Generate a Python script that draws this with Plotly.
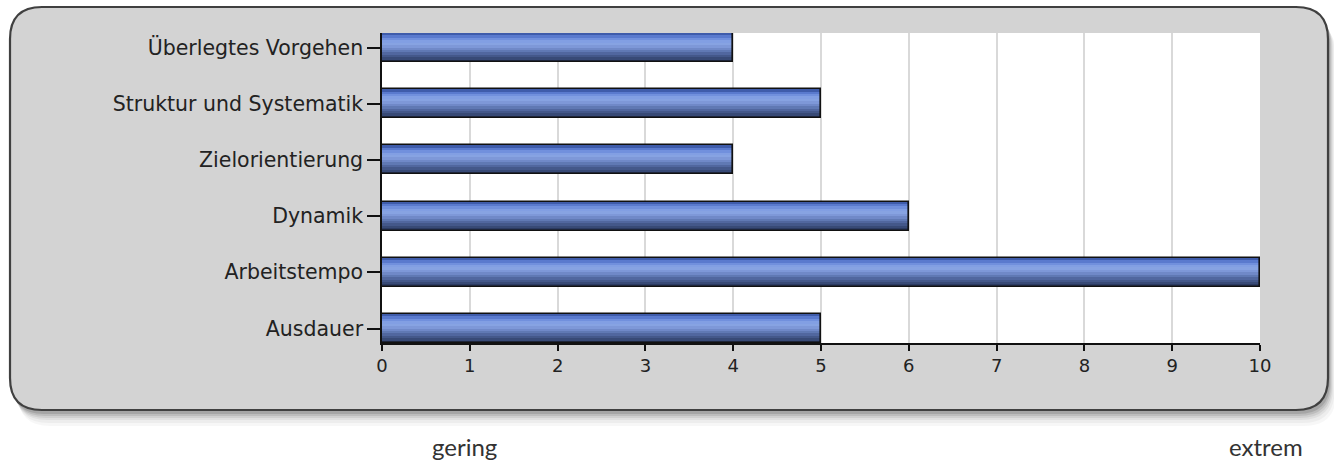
import plotly.graph_objects as go

categories = ["Überlegtes Vorgehen", "Struktur und Systematik", "Zielorientierung",
              "Dynamik", "Arbeitstempo", "Ausdauer"]
values = [4, 5, 4, 6, 10, 5]
x_ticks = [0, 1, 2, 3, 4, 5, 6, 7, 8, 9, 10]
scale_low = "gering"
scale_high = "extrem"

W, H = 1334, 466
BAR_W = 0.516
grad = ["#3f5cab", "#5a7ace", "#7190dd", "#829fe3", "#87a3e2", "#7e98d8",
        "#7089c8", "#6079b4", "#51679f", "#44588a", "#384a76", "#2c3b62"]

fig = go.Figure()
n = len(grad)
sw = BAR_W / n
for i, c in enumerate(grad):
    fig.add_trace(go.Bar(
        x=values, y=categories, orientation="h",
        width=sw * 1.02, offset=-BAR_W / 2 + i * sw,
        marker=dict(color=c, line=dict(width=0)),
        showlegend=False, hoverinfo="skip"))
fig.add_trace(go.Bar(
    x=values, y=categories, orientation="h",
    width=BAR_W, offset=-BAR_W / 2,
    marker=dict(color="rgba(0,0,0,0)", line=dict(color="#111111", width=1.6)),
    showlegend=False, hoverinfo="x+y"))


def px(x, y):
    return x / W, 1 - y / H


def rounded(x0, y0, x1, y1, r):
    def p(x, y):
        a, b = px(x, y)
        return f"{a:.5f},{b:.5f}"
    return (f"M {p(x0 + r, y0)} L {p(x1 - r, y0)} Q {p(x1, y0)} {p(x1, y0 + r)} "
            f"L {p(x1, y1 - r)} Q {p(x1, y1)} {p(x1 - r, y1)} "
            f"L {p(x0 + r, y1)} Q {p(x0, y1)} {p(x0, y1 - r)} "
            f"L {p(x0, y0 + r)} Q {p(x0, y0)} {p(x0 + r, y0)} Z")


shapes = []
for d, op in [(16, 0.03), (13, 0.04), (10, 0.05), (8, 0.07), (6, 0.09), (4, 0.12)]:
    shapes.append(dict(type="path", xref="paper", yref="paper", layer="below",
                       path=rounded(10 + d * 0.5, 7 + d, 1328 + d * 0.5, 410 + d, 32),
                       fillcolor=f"rgba(0,0,0,{op})", line=dict(width=0)))
shapes.append(dict(type="path", xref="paper", yref="paper", layer="below",
                   path=rounded(10, 7, 1328, 410, 32),
                   fillcolor="#d3d3d3", line=dict(color="#404040", width=2.2)))
shapes.append(dict(type="rect", xref="x domain", yref="y domain", layer="below",
                   x0=0, x1=1, y0=0, y1=1, fillcolor="white", line=dict(width=0)))

fig.update_layout(
    width=W, height=H, autosize=False,
    margin=dict(l=0, r=0, t=0, b=0, pad=0, autoexpand=False),
    paper_bgcolor="white", plot_bgcolor="white",
    barmode="overlay", bargap=0,
    shapes=shapes,
    xaxis=dict(domain=[382 / W, 1260 / W], range=[0, 10], tickvals=x_ticks,
               showgrid=True, gridcolor="#d9d9d9", gridwidth=1.5,
               showline=True, linecolor="#111111", linewidth=1.5,
               ticks="outside", ticklen=6, tickcolor="#111111", tickwidth=1.5,
               tickfont=dict(family="DejaVu Sans", size=18, color="#222222"),
               zeroline=False, fixedrange=True),
    yaxis=dict(domain=[1 - 343 / H, 1 - 33 / H], type="category",
               categoryorder="array", categoryarray=categories,
               range=[5 + BAR_W / 2, -BAR_W / 2],
               showgrid=False, showline=True, linecolor="#111111", linewidth=1.5,
               ticks="outside", ticklen=13, tickcolor="#111111", tickwidth=1.5,
               tickfont=dict(family="DejaVu Sans", size=20.5, color="#222222"),
               fixedrange=True),
    annotations=[
        dict(text=scale_low, xref="paper", yref="paper", x=464.5 / W, y=1 - 446 / H,
             showarrow=False, xanchor="center", yanchor="middle",
             font=dict(family="Lato", size=24, color="#333333")),
        dict(text=scale_high, xref="paper", yref="paper", x=1266 / W, y=1 - 446 / H,
             showarrow=False, xanchor="center", yanchor="middle",
             font=dict(family="Lato", size=24, color="#333333")),
    ],
)

fig.write_html("out.html", config={"responsive": False})
